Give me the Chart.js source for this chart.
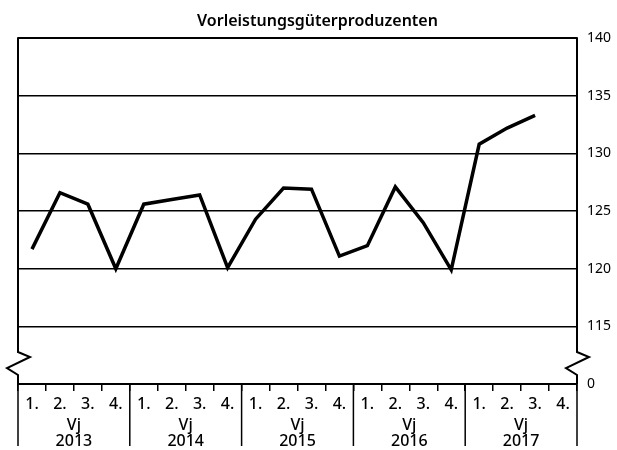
<!DOCTYPE html>
<html>
<head>
<meta charset="utf-8">
<script src="https://cdn.jsdelivr.net/npm/chart.js@4"></script>
<style>
  body { margin: 0; background: #fff; }
  #wrap { width: 617px; height: 450px; position: relative; }
</style>
</head>
<body>
<div id="wrap"><canvas id="chart"></canvas></div>
<script>
const quarters = ['1.', '2.', '3.', '4.', '1.', '2.', '3.', '4.', '1.', '2.', '3.', '4.',
                  '1.', '2.', '3.', '4.', '1.', '2.', '3.', '4.'];
const years = ['2013', '2014', '2015', '2016', '2017'];
const values = [121.7, 126.6, 125.6, 120.0, 125.6, 126.0, 126.4, 120.1,
                124.3, 127.0, 126.9, 121.1, 122.0, 127.1, 124.0, 119.9,
                130.8, 132.2, 133.3, null];
// bottom of the broken axis stands for 0
const axisBase = 110;
const yTicks = [140, 135, 130, 125, 120, 115, 110];

const fontFamily = '"Noto Sans", sans-serif';

const decorations = {
    id: 'decorations',
    afterDraw(chart) {
        const ctx = chart.ctx;
        const area = chart.chartArea;
        const x = chart.scales.x;
        const y = chart.scales.y;
        const breakTop = y.getPixelForValue(axisBase) - 32;
        ctx.save();
        ctx.strokeStyle = '#000';
        ctx.lineWidth = 2;
        // side borders with the break zigzag
        [area.left, area.right].forEach(px => {
            ctx.beginPath();
            ctx.moveTo(px, area.top - 1);
            ctx.lineTo(px, breakTop);
            ctx.lineTo(px + 12, breakTop + 5);
            ctx.lineTo(px - 11, breakTop + 16);
            ctx.lineTo(px, breakTop + 23);
            ctx.lineTo(px, area.bottom);
            ctx.stroke();
        });
        // year separators and labels
        const half = (x.getPixelForValue(1) - x.getPixelForValue(0)) / 2;
        ctx.lineWidth = 1.5;
        for (let i = 0; i <= years.length; i++) {
            const idx = Math.min(i * 4, quarters.length - 1);
            const px = i * 4 < quarters.length ? x.getPixelForValue(idx) - half : x.getPixelForValue(idx) + half;
            ctx.beginPath();
            ctx.moveTo(px, area.bottom);
            ctx.lineTo(px, 446);
            ctx.stroke();
        }
        ctx.fillStyle = '#000';
        ctx.textAlign = 'center';
        ctx.textBaseline = 'middle';
        ctx.font = '500 16px ' + fontFamily;
        years.forEach((yr, i) => {
            const cx = (x.getPixelForValue(i * 4) + x.getPixelForValue(i * 4 + 3)) / 2;
            ctx.fillText('Vj', cx, 425);
            ctx.fillText(yr, cx, 441);
        });
        ctx.restore();
    }
};

new Chart(document.getElementById('chart'), {
    type: 'line',
    data: {
        labels: quarters,
        datasets: [{
            data: values,
            borderColor: '#000',
            borderWidth: 3.5,
            pointRadius: 0,
            tension: 0
        }]
    },
    options: {
        responsive: true,
        maintainAspectRatio: false,
        animation: false,
        layout: { padding: { left: 18, right: 0, top: 0, bottom: 0 } },
        scales: {
            x: {
                offset: true,
                grid: {
                    offset: true,
                    drawOnChartArea: false,
                    tickLength: 7,
                    color: '#000',
                    lineWidth: 1.5
                },
                border: { display: true, color: '#000', width: 2 },
                ticks: {
                    color: '#000',
                    font: { family: fontFamily, size: 16, weight: '500' },
                    padding: 4,
                    maxRotation: 0,
                    autoSkip: false
                },
                afterFit(scale) { scale.height = 66; }
            },
            y: {
                position: 'right',
                min: axisBase,
                max: 140,
                afterBuildTicks(scale) {
                    scale.ticks = yTicks.map(v => ({ value: v }));
                },
                grid: {
                    drawTicks: false,
                    color: '#000',
                    lineWidth: c => (c.tick && c.tick.value === 140 ? 2 : 1.5)
                },
                border: { display: false },
                ticks: {
                    color: '#000',
                    padding: 10,
                    font: { family: fontFamily, size: 14 },
                    callback: v => (v === axisBase ? '0' : v)
                },
                afterFit(scale) { scale.width = 40; }
            }
        },
        plugins: {
            legend: { display: false },
            tooltip: { enabled: false },
            title: {
                display: true,
                text: 'Vorleistungsgüterproduzenten',
                color: '#000',
                font: { family: fontFamily, size: 16, weight: '600' },
                padding: { top: 12, bottom: 7 }
            }
        }
    },
    plugins: [decorations]
});
</script>
</body>
</html>
